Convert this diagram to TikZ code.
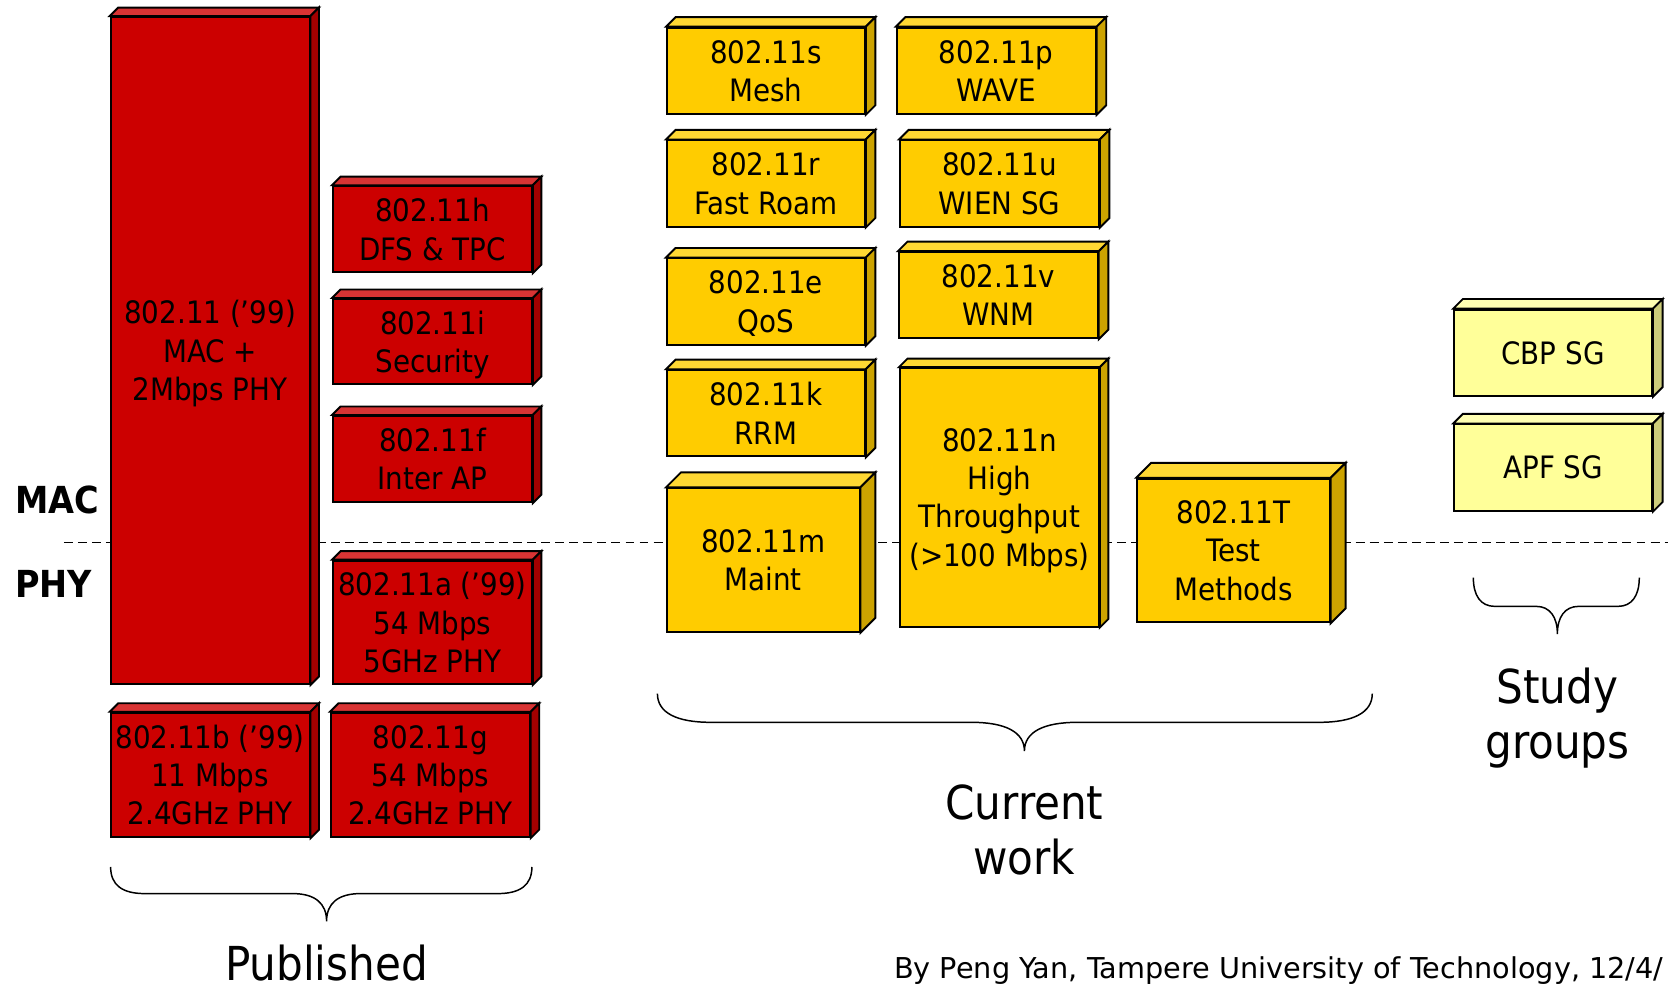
\documentclass[tikz,border=0pt]{standalone}
\usepackage{fontspec}
\setmainfont{DejaVu Sans Condensed}
\newfontfamily\creditfont{DejaVu Sans}
\usepackage{tikz}

\definecolor{frontred}{RGB}{204,0,0}
\definecolor{topred}{RGB}{216,52,52}
\definecolor{sidered}{RGB}{163,0,0}
\definecolor{frontyel}{RGB}{255,204,0}
\definecolor{topyel}{RGB}{255,216,51}
\definecolor{sideyel}{RGB}{204,163,0}
\definecolor{frontsg}{RGB}{255,255,153}
\definecolor{topsg}{RGB}{255,255,178}
\definecolor{sidesg}{RGB}{204,204,122}

\begin{document}
\begin{tikzpicture}[x=0.5pt, y=-0.5pt,
	face/.style={draw=black, line width=0.9pt, line join=miter},
	boxtext/.style={font=\fontsize{14.5}{18}\selectfont, align=center, inner sep=0pt},
	grouplabel/.style={font=\fontsize{22}{26}\selectfont, align=center},
	layerlabel/.style={font=\fontsize{17.5}{20}\selectfont\bfseries, anchor=base west, inner sep=0pt},
	bracepath/.style={line width=0.7pt}]
	\useasboundingbox (0,0) rectangle (1568,927);
	% MAC / PHY boundary
	\coordinate (layerL) at (60,510);
	\coordinate (layerR) at (1568,510);
	\draw[dash pattern=on 4.2pt off 2.4pt, line width=0.8pt] (layerL) -- (layerR);
	\node[layerlabel] (mac) at (14,483) {MAC};
	\node[layerlabel] (phy) at (14,562) {PHY};
	% boxes: name/left/top/right/bottom/depth/colour/text
	\foreach \nm/\xa/\ya/\xb/\yb/\dp/\clr/\txt in {
		p11/104/16/291/643/8/red/{802.11 (’99)\\MAC +\\2Mbps PHY},
		p11h/313/175/500/256/8/red/{802.11h\\DFS \& TPC},
		p11i/313/281/500/361/8/red/{802.11i\\Security},
		p11f/313/391/500/472/8/red/{802.11f\\Inter AP},
		p11a/313/527/500/643/8/red/{802.11a (’99)\\54 Mbps\\5GHz PHY},
		p11b/104/670/291/787/8/red/{802.11b (’99)\\11 Mbps\\2.4GHz PHY},
		p11g/311/670/498/787/8/red/{802.11g\\54 Mbps\\2.4GHz PHY},
		c11s/627/26/813/107/9/yel/{802.11s\\Mesh},
		c11p/843/26/1030/107/9/yel/{802.11p\\WAVE},
		c11r/627/132/813/213/9/yel/{802.11r\\Fast Roam},
		c11u/846/132/1033/213/9/yel/{802.11u\\WIEN SG},
		c11e/627/243/813/324/9/yel/{802.11e\\QoS},
		c11v/845/237/1032/318/9/yel/{802.11v\\WNM},
		c11k/627/348/813/429/9/yel/{802.11k\\RRM},
		c11m/627/459/808/594/14/yel/{802.11m\\Maint},
		c11n/846/346/1033/589/8/yel/{802.11n\\High\\Throughput\\(>100 Mbps)},
		c11T/1069/450/1250/585/14/yel/{802.11T\\Test\\Methods},
		sgcbp/1367/291/1553/372/9/sg/{CBP SG},
		sgapf/1367/399/1553/480/9/sg/{APF SG}}{
		\node[face, fill=front\clr, boxtext, minimum width={(\xb-\xa)*0.5pt}, minimum height={(\yb-\ya)*0.5pt}] (\nm) at ({(\xa+\xb)/2},{(\ya+\yb)/2}) {\txt};
		\filldraw[face, fill=top\clr] (\nm.north west) -- ++(\dp,-\dp) -- ([shift={(\dp,-\dp)}]\nm.north east) -- (\nm.north east) -- cycle;
		\filldraw[face, fill=side\clr] (\nm.north east) -- ++(\dp,-\dp) -- ([shift={(\dp,-\dp)}]\nm.south east) -- (\nm.south east) -- cycle;
	}
	% braces
	\coordinate (pubL) at (104,815);
	\coordinate (pubT) at (307,866);
	\coordinate (pubR) at (500,815);
	\draw[bracepath] (pubL) .. controls (104,832) and (115,840) .. (136,840) -- (275,840) .. controls (296,840) and (307,849) .. (pubT) .. controls (307,849) and (318,840) .. (339,840) -- (468,840) .. controls (489,840) and (500,832) .. (pubR);
	\coordinate (curL) at (618,652);
	\coordinate (curT) at (963,706);
	\coordinate (curR) at (1290,652);
	\draw[bracepath] (curL) .. controls (618,670) and (636,679) .. (668,679) -- (913,679) .. controls (945,679) and (963,688) .. (curT) .. controls (963,688) and (981,679) .. (1013,679) -- (1240,679) .. controls (1272,679) and (1290,670) .. (curR);
	\coordinate (sgL) at (1385,543);
	\coordinate (sgT) at (1464,596);
	\coordinate (sgR) at (1541,543);
	\draw[bracepath] (sgL) .. controls (1385,560) and (1392,570) .. (1405,570) -- (1444,570) .. controls (1457,570) and (1464,580) .. (sgT) .. controls (1464,580) and (1471,570) .. (1484,570) -- (1521,570) .. controls (1534,570) and (1541,560) .. (sgR);
	% group labels
	\node[grouplabel, anchor=base] (published) at (307,922) {Published};
	\node[grouplabel, anchor=base] (current) at (963,822) {Current\\work};
	\node[grouplabel, anchor=base] (study) at (1464,713) {Study\\groups};
	\node[anchor=base west, font=\creditfont\fontsize{13.5}{16}\selectfont, inner sep=0pt] (credit) at (840,920) {By Peng Yan, Tampere University of Technology, 12/4/};
\end{tikzpicture}
\end{document}
